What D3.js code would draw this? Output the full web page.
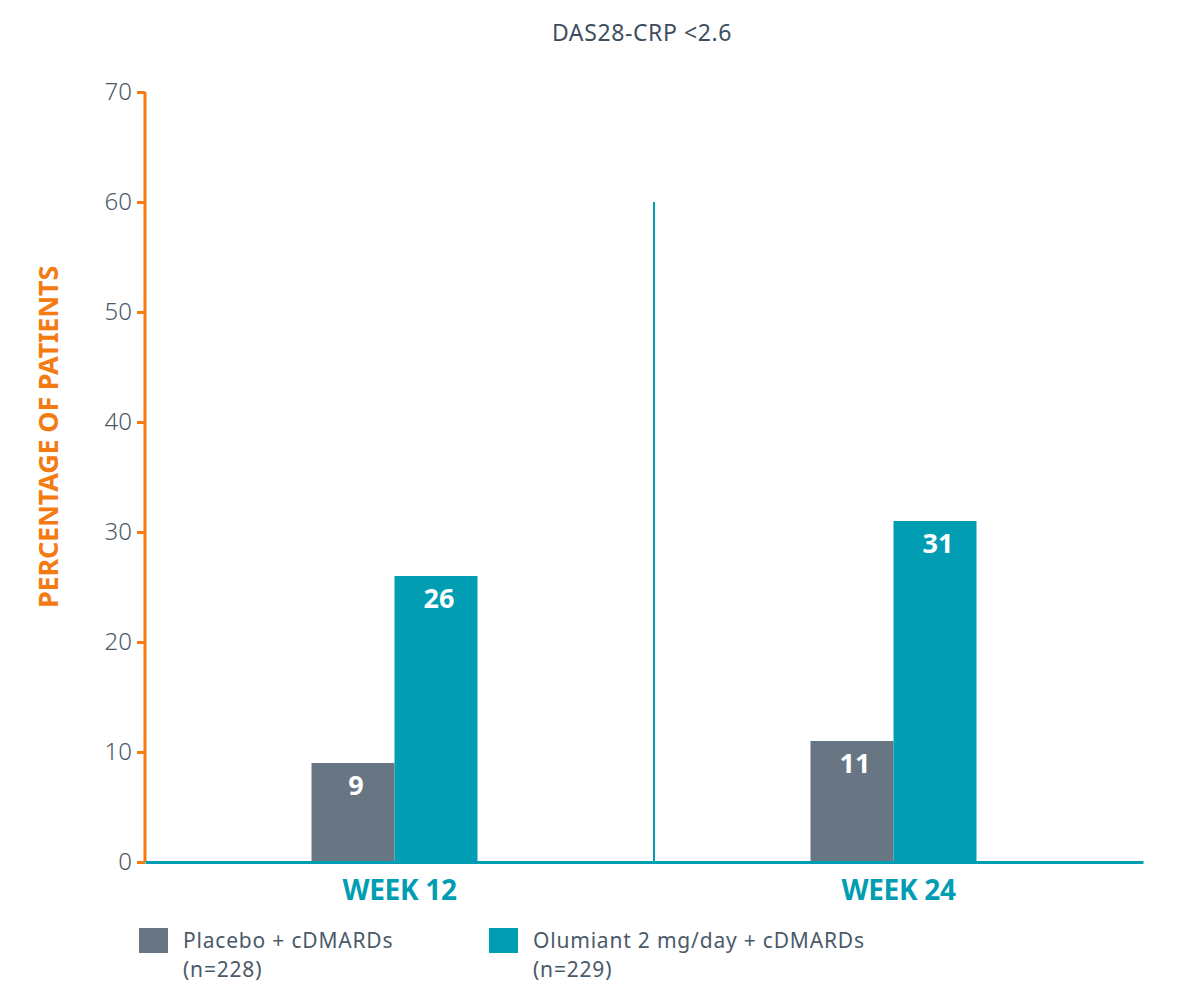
<!DOCTYPE html>
<html lang="en">
<head>
    <meta charset="UTF-8">
    <title>DAS28-CRP &lt;2.6</title>
    <script src="https://d3js.org/d3.v7.min.js"></script>
    <style>
        body { margin:0; background:#fff; }
        text { font-family: "Noto Sans", "DejaVu Sans", sans-serif; }
    </style>
</head>
<body>
<script>
    // data
    var weeks = ["WEEK 12", "WEEK 24"];
    var seriesNames = ["Placebo + cDMARDs", "Olumiant 2 mg/day + cDMARDs"];
    var seriesN = ["(n=228)", "(n=229)"];
    var placebo = [9, 11];
    var olumiant = [26, 31];
    var yTicks = [0, 10, 20, 30, 40, 50, 60, 70];
    var colors = ["#687684", "#009db3"];

    var width = 1184, height = 998;
    var margin = {left:145, right:41, top:92, bottom:136};
    var orange = "#f47a12", textCol = "#4b5a69";

    var svg = d3.select("body").append("svg")
                .attr("width", width).attr("height", height);

    var x = d3.scaleBand().domain(weeks)
              .range([margin.left, width - margin.right]);
    var sub = d3.scaleBand().domain(seriesNames)
                .range([-83, 83]);
    var y = d3.scaleLinear().domain([0, 70])
              .range([height - margin.bottom, margin.top]);

    // title
    svg.append("text").attr("x", 642).attr("y", 41)
       .attr("text-anchor", "middle").attr("font-size", 23)
       .attr("letter-spacing", 0.6)
       .attr("fill", "#3e4e5e").text("DAS28-CRP <2.6");

    // divider
    svg.append("line")
       .attr("x1", x("WEEK 24") + 10).attr("x2", x("WEEK 24") + 10)
       .attr("y1", y(60)).attr("y2", y(0))
       .attr("stroke", colors[1]).attr("stroke-width", 2);

    // bars
    var rows = [];
    weeks.forEach(function(w, i){
        rows.push({week:w, s:seriesNames[0], v:placebo[i], c:colors[0]});
        rows.push({week:w, s:seriesNames[1], v:olumiant[i], c:colors[1]});
    });
    var cx = function(d){ return x(d.week) + x.bandwidth()/2 + sub(d.s); };

    svg.selectAll("rect.bar").data(rows).enter().append("rect")
       .attr("class", "bar")
       .attr("x", cx).attr("width", sub.bandwidth())
       .attr("y", function(d){ return y(d.v); })
       .attr("height", function(d){ return y(0) - y(d.v); })
       .attr("fill", function(d){ return d.c; });

    svg.selectAll("text.val").data(rows).enter().append("text")
       .attr("class", "val")
       .attr("x", function(d){ return cx(d) + sub.bandwidth()/2 + 3; })
       .attr("y", function(d){ return y(d.v) + 32; })
       .attr("text-anchor", "middle").attr("font-size", 27)
       .attr("font-weight", "bold").attr("fill", "#fff")
       .text(function(d){ return d.v; });

    // y axis
    var yAxis = d3.axisLeft(y).tickValues(yTicks).tickSize(8).tickPadding(5);
    var yg = svg.append("g").attr("transform", "translate(" + margin.left + ",0)").call(yAxis);
    yg.select(".domain").attr("stroke", orange).attr("stroke-width", 3)
      .attr("d", "M0," + y(70) + "V" + y(0));
    yg.selectAll(".tick line").attr("stroke", orange).attr("stroke-width", 3);
    yg.selectAll(".tick text").attr("font-size", 24).attr("fill", textCol)
      .attr("font-family", "'Noto Sans', sans-serif").attr("font-weight", 300);

    // x axis
    var xAxis = d3.axisBottom(x).tickSize(0).tickPadding(18);
    var xg = svg.append("g").attr("transform", "translate(0," + y(0) + ")").call(xAxis);
    xg.select(".domain").attr("stroke", colors[1]).attr("stroke-width", 3);
    xg.selectAll(".tick text").attr("font-size", 28).attr("font-weight", "bold")
      .attr("fill", colors[1]).attr("font-family", "'Roboto', sans-serif")
      .attr("letter-spacing", -0.3)
      .attr("dx", 5);

    // y title
    svg.append("text")
       .attr("transform", "translate(58," + 437 + ") rotate(-90)")
       .attr("text-anchor", "middle").attr("font-size", 27)
       .attr("font-weight", "bold").attr("fill", orange)
       .attr("font-family", "'Roboto', sans-serif").attr("letter-spacing", -0.2)
       .text("PERCENTAGE OF PATIENTS");

    // legend
    var lx = [139, 489];
    var lg = svg.selectAll("g.leg").data(seriesNames).enter().append("g")
                .attr("class", "leg")
                .attr("transform", function(d, i){ return "translate(" + lx[i] + ",928)"; });
    lg.append("rect").attr("width", 29).attr("height", 25)
      .attr("fill", function(d, i){ return colors[i]; });
    lg.append("text").attr("x", 44).attr("y", 20).attr("font-size", 21)
      .attr("letter-spacing", 0.8)
      .attr("fill", textCol).text(function(d){ return d; });
    lg.append("text").attr("x", 44).attr("y", 49).attr("font-size", 21)
      .attr("letter-spacing", 0.8)
      .attr("fill", textCol).text(function(d, i){ return seriesN[i]; });
</script>
</body>
</html>
